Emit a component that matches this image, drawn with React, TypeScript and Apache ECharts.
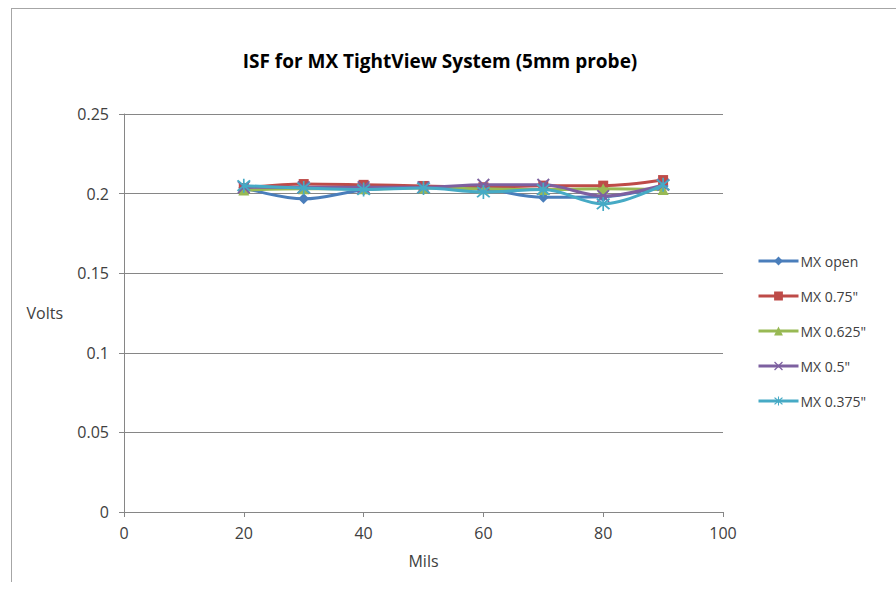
import React, { useEffect, useRef } from "react";
import * as echarts from "echarts";

const mils = [20, 30, 40, 50, 60, 70, 80, 90];
const seriesNames = ["MX open", 'MX 0.75"', 'MX 0.625"', 'MX 0.5"', 'MX 0.375"'];
const mxOpen = [0.2036, 0.1967, 0.2023, 0.2042, 0.203, 0.1977, 0.198, 0.2047];
const mx075 = [0.2035, 0.206, 0.2055, 0.2048, 0.204, 0.205, 0.205, 0.2085];
const mx0625 = [0.2022, 0.203, 0.203, 0.2035, 0.203, 0.2025, 0.203, 0.2025];
const mx05 = [0.204, 0.204, 0.204, 0.204, 0.2055, 0.2055, 0.1985, 0.2055];
const mx0375 = [0.205, 0.2035, 0.2025, 0.2035, 0.201, 0.2025, 0.1935, 0.2055];
const xTicks = [0, 20, 40, 60, 80, 100];

const colors = ["#4A7EBB", "#BE4B48", "#98B954", "#7D60A0", "#46AAC5"];
const xPath = "path://M0,1 L1,0 L5,4 L9,0 L10,1 L6,5 L10,9 L9,10 L5,6 L1,10 L0,9 L4,5 Z";
const starPath =
  "path://M0,1 L1,0 L5,4 L9,0 L10,1 L6,5 L10,9 L9,10 L5,6 L1,10 L0,9 L4,5 Z M4.4,-1 L5.6,-1 L5.6,11 L4.4,11 Z";
const symbols = ["diamond", "rect", "triangle", xPath, starPath];
const symbolSizes = [11, 10, 11, 13, 14];

export default function App() {
  const ref = useRef<HTMLDivElement>(null);
  useEffect(() => {
    document.body.style.margin = "0";
    const chart = echarts.init(ref.current!, null, { renderer: "svg" });
    const allData = [mxOpen, mx075, mx0625, mx05, mx0375];
    const font = "'Open Sans', 'Liberation Sans', sans-serif";
    chart.setOption({
      animation: false,
      backgroundColor: "#ffffff",
      color: colors,
      title: {
        text: "ISF for MX TightView System (5mm probe)",
        left: 435,
        textAlign: "center",
        top: 46,
        textStyle: { fontFamily: font, fontSize: 19, fontWeight: "bold", color: "#000" },
      },
      graphic: [
        { type: "line", shape: { x1: 11, y1: 8.5, x2: 896, y2: 8.5 }, style: { stroke: "#a6a6a6", lineWidth: 1 } },
        { type: "line", shape: { x1: 11.5, y1: 8, x2: 11.5, y2: 582 }, style: { stroke: "#a6a6a6", lineWidth: 1 } },
      ],
      legend: {
        orient: "vertical",
        left: 752,
        top: 249,
        itemWidth: 40,
        itemHeight: 11,
        itemGap: 21,
        lineStyle: { width: 3 },
        textStyle: { fontFamily: font, fontSize: 14, color: "#404040", padding: [0, 0, 0, -3] },
        data: seriesNames,
      },
      grid: { left: 124, right: 173, top: 114, bottom: 77 },
      xAxis: {
        type: "value",
        min: 0,
        max: 100,
        interval: 20,
        name: "Mils",
        nameLocation: "middle",
        nameGap: 41,
        nameTextStyle: { fontFamily: font, fontSize: 16, color: "#404040" },
        axisLine: { show: true, lineStyle: { color: "#868686" } },
        axisTick: { show: true, length: 5, lineStyle: { color: "#868686" } },
        axisLabel: {
          fontFamily: font,
          fontSize: 16,
          color: "#404040",
          margin: 13,
          customValues: xTicks,
        },
        splitLine: { show: false },
      },
      yAxis: {
        type: "value",
        min: 0,
        max: 0.25,
        interval: 0.05,
        name: "Volts",
        nameLocation: "middle",
        nameRotate: 0,
        nameGap: 61,
        nameTextStyle: { fontFamily: font, fontSize: 16, color: "#404040" },
        axisLine: { show: true, lineStyle: { color: "#868686" } },
        axisTick: { show: true, length: 5, lineStyle: { color: "#868686" } },
        axisLabel: {
          fontFamily: font,
          fontSize: 16,
          color: "#404040",
          margin: 15,
          formatter: (v: number) => String(parseFloat(v.toFixed(2))),
        },
        splitLine: { show: true, lineStyle: { color: "#868686", width: 1 } },
      },
      series: seriesNames.map((name, i) => ({
        name,
        type: "line",
        smooth: 0.35,
        data: mils.map((m, j) => [m, allData[i][j]]),
        symbol: symbols[i],
        symbolSize: symbolSizes[i],
        lineStyle: { width: 3, color: colors[i] },
        itemStyle: { color: colors[i], borderWidth: 0 },
        z: 2 + i,
      })),
    });
    return () => chart.dispose();
  }, []);
  return <div ref={ref} style={{ width: 896, height: 589 }} />;
}
